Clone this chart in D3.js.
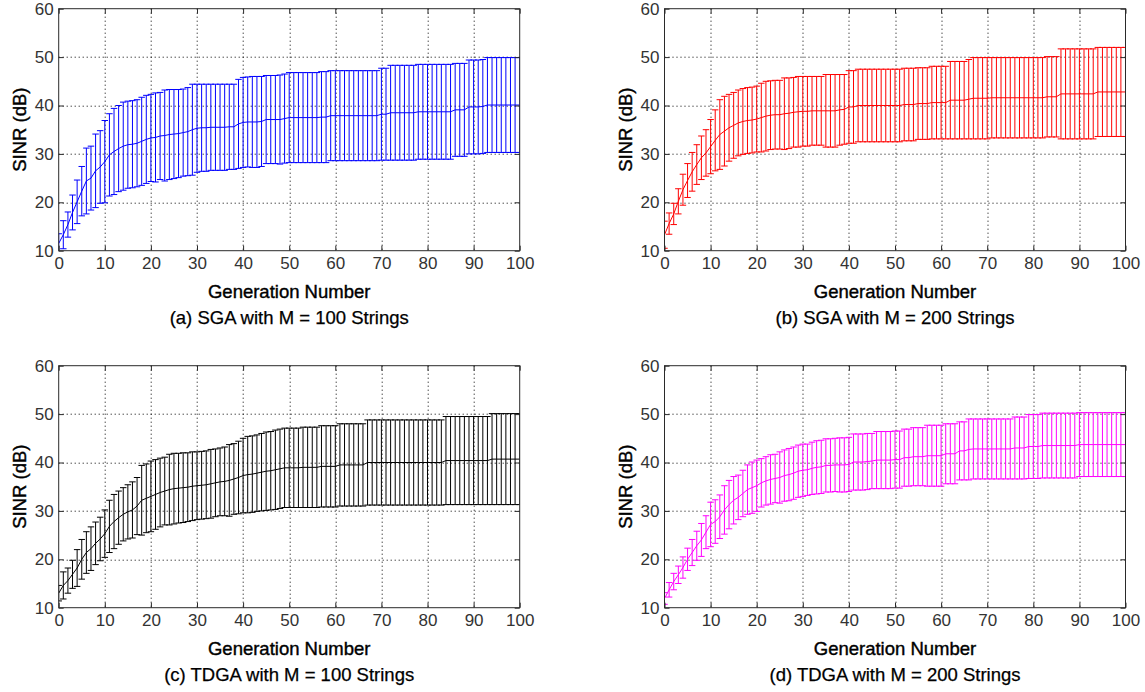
<!DOCTYPE html>
<html>
<head>
<meta charset="utf-8">
<script src="https://cdn.jsdelivr.net/npm/d3@7"></script>
<style>
  body { margin: 0; background: #fff; }
  svg { display: block; }
  text { font-family: Arial, "Liberation Sans", Helvetica, sans-serif; }
</style>
</head>
<body>
<svg id="chart" width="1145" height="692"></svg>
<script>
// Generation index (x) and axis tick values
const generations = d3.range(0, 101);
const xTicks = [0, 10, 20, 30, 40, 50, 60, 70, 80, 90, 100];
const yTicks = [10, 20, 30, 40, 50, 60];

// (a) SGA, M = 100: mean SINR (dB) and spread per generation
const sga100Mean = [
  11.5, 13.3, 15.4, 17.9, 20.1, 22.3, 24.4, 25.0, 26.5, 27.3,
  28.4, 29.8, 30.5, 31.1, 31.6, 31.9, 32.0, 32.2, 32.6, 33.0,
  33.3, 33.4, 33.7, 33.8, 34.0, 34.1, 34.2, 34.4, 34.6, 35.0,
  35.3, 35.4, 35.4, 35.5, 35.5, 35.5, 35.5, 35.6, 35.6, 36.2,
  36.5, 36.6, 36.6, 36.6, 36.7, 37.1, 37.1, 37.1, 37.1, 37.3,
  37.5, 37.5, 37.5, 37.5, 37.5, 37.5, 37.5, 37.6, 37.6, 37.9,
  37.9, 37.9, 37.9, 37.9, 37.9, 37.9, 37.9, 37.9, 37.9, 37.9,
  38.2, 38.2, 38.5, 38.5, 38.5, 38.5, 38.5, 38.5, 38.7, 38.7,
  38.7, 38.7, 38.7, 38.7, 38.7, 38.7, 39.1, 39.1, 39.1, 39.7,
  39.7, 39.7, 39.8, 40.1, 40.1, 40.1, 40.1, 40.1, 40.1, 40.1,
  40.1
];
const sga100Std = [
  2.0, 2.9, 2.6, 3.6, 4.5, 5.1, 6.8, 6.6, 7.6, 7.5,
  8.5, 8.5, 8.9, 8.9, 9.1, 9.0, 9.0, 9.0, 9.1, 9.1,
  9.0, 9.2, 9.0, 9.4, 9.3, 9.2, 9.1, 9.0, 9.1, 9.4,
  9.1, 9.0, 9.0, 8.9, 8.9, 8.9, 8.9, 8.8, 8.8, 9.2,
  9.3, 9.3, 9.4, 9.4, 9.3, 9.1, 9.1, 9.1, 9.2, 9.2,
  9.3, 9.3, 9.3, 9.3, 9.3, 9.3, 9.3, 9.4, 9.4, 9.3,
  9.3, 9.3, 9.3, 9.3, 9.3, 9.3, 9.3, 9.3, 9.3, 9.3,
  9.5, 9.5, 9.8, 9.8, 9.8, 9.8, 9.8, 9.8, 9.8, 9.8,
  9.8, 9.8, 9.8, 9.8, 9.8, 9.8, 9.6, 9.6, 9.6, 9.7,
  9.7, 9.7, 9.7, 9.8, 9.8, 9.8, 9.8, 9.8, 9.8, 9.8,
  9.8
];

// (b) SGA, M = 200
const sga200Mean = [
  13.3, 15.6, 17.6, 20.2, 22.6, 24.5, 26.3, 27.8, 29.2, 30.2,
  31.5, 32.8, 34.0, 34.7, 35.4, 35.9, 36.4, 36.7, 36.9, 37.0,
  37.2, 37.5, 37.8, 38.0, 38.1, 38.1, 38.3, 38.4, 38.6, 38.7,
  38.8, 38.8, 38.9, 38.9, 38.9, 38.9, 38.9, 38.9, 39.1, 39.2,
  39.7, 39.7, 40.0, 40.0, 40.0, 40.0, 40.0, 40.0, 40.0, 40.0,
  40.0, 40.0, 40.2, 40.2, 40.2, 40.4, 40.4, 40.4, 40.6, 40.6,
  40.6, 40.6, 41.1, 41.1, 41.1, 41.1, 41.3, 41.5, 41.5, 41.5,
  41.5, 41.6, 41.6, 41.6, 41.6, 41.6, 41.6, 41.6, 41.6, 41.6,
  41.6, 41.6, 41.6, 41.8, 41.8, 41.8, 42.4, 42.4, 42.4, 42.4,
  42.4, 42.4, 42.4, 42.4, 42.8, 42.8, 42.8, 42.8, 42.8, 42.8,
  42.8
];
const sga200Std = [
  2.8, 2.2, 2.2, 2.6, 3.2, 3.5, 4.0, 4.1, 4.5, 4.8,
  5.6, 6.3, 7.2, 7.2, 6.9, 6.8, 6.8, 6.8, 6.8, 6.8,
  6.8, 7.1, 7.2, 7.1, 7.1, 7.1, 7.4, 7.3, 7.2, 7.3,
  7.2, 7.2, 7.1, 7.1, 7.1, 7.5, 7.5, 7.5, 7.3, 7.2,
  7.5, 7.5, 7.5, 7.5, 7.5, 7.5, 7.5, 7.5, 7.5, 7.5,
  7.5, 7.5, 7.5, 7.5, 7.5, 7.4, 7.4, 7.4, 7.5, 7.5,
  7.5, 7.5, 8.0, 8.0, 8.0, 8.0, 8.2, 8.4, 8.4, 8.4,
  8.4, 8.3, 8.3, 8.3, 8.3, 8.3, 8.3, 8.3, 8.3, 8.3,
  8.3, 8.3, 8.3, 8.3, 8.3, 8.3, 9.3, 9.3, 9.3, 9.3,
  9.3, 9.3, 9.3, 9.3, 9.2, 9.2, 9.2, 9.2, 9.2, 9.2,
  9.2
];

// (c) TDGA, M = 100
const tdga100Mean = [
  13.0, 14.6, 15.6, 16.9, 18.2, 20.0, 21.4, 22.2, 23.3, 24.2,
  25.3, 26.8, 27.8, 28.6, 29.3, 29.8, 30.2, 31.0, 32.2, 32.6,
  33.0, 33.4, 33.8, 34.1, 34.4, 34.6, 34.7, 34.8, 34.9, 35.1,
  35.2, 35.3, 35.4, 35.6, 35.8, 36.0, 36.1, 36.3, 36.6, 36.9,
  37.3, 37.5, 37.6, 37.8, 38.0, 38.2, 38.3, 38.5, 38.7, 38.9,
  38.9, 38.9, 38.9, 39.0, 39.0, 39.0, 39.0, 39.2, 39.2, 39.2,
  39.2, 39.5, 39.5, 39.5, 39.5, 39.5, 39.5, 40.0, 40.0, 40.0,
  40.0, 40.0, 40.0, 40.0, 40.0, 40.0, 40.0, 40.0, 40.0, 40.0,
  40.0, 40.0, 40.0, 40.0, 40.4, 40.4, 40.4, 40.4, 40.4, 40.4,
  40.4, 40.4, 40.4, 40.4, 40.7, 40.7, 40.7, 40.7, 40.7, 40.7,
  40.7
];
const tdga100Std = [
  1.6, 2.8, 2.6, 2.9, 3.8, 4.1, 4.3, 4.5, 4.4, 4.5,
  4.9, 5.4, 5.6, 5.5, 5.5, 5.6, 5.8, 5.9, 7.2, 7.1,
  7.3, 7.2, 7.1, 7.0, 7.3, 7.3, 7.2, 7.2, 7.1, 7.1,
  7.0, 7.0, 7.0, 7.1, 7.0, 7.0, 7.1, 7.4, 7.3, 7.5,
  7.7, 7.9, 7.9, 7.9, 8.0, 8.1, 8.1, 8.2, 8.2, 8.2,
  8.2, 8.2, 8.2, 8.3, 8.3, 8.3, 8.3, 8.4, 8.4, 8.4,
  8.4, 8.5, 8.5, 8.5, 8.5, 8.5, 8.5, 8.8, 8.8, 8.8,
  8.8, 8.8, 8.8, 8.8, 8.8, 8.8, 8.8, 8.8, 8.8, 8.8,
  8.8, 8.8, 8.8, 8.8, 9.1, 9.1, 9.1, 9.1, 9.1, 9.1,
  9.1, 9.1, 9.1, 9.1, 9.4, 9.4, 9.4, 9.4, 9.4, 9.4,
  9.4
];

// (d) TDGA, M = 200
const tdga200Mean = [
  11.9, 13.7, 15.4, 16.8, 18.3, 20.0, 21.4, 22.8, 24.0, 25.6,
  27.2, 27.8, 28.8, 30.2, 31.3, 32.2, 32.8, 33.6, 34.4, 34.8,
  35.2, 35.8, 36.2, 36.5, 36.7, 36.9, 37.3, 37.5, 37.8, 38.2,
  38.4, 38.5, 38.8, 39.0, 39.1, 39.4, 39.4, 39.5, 39.5, 39.5,
  39.6, 40.1, 40.1, 40.1, 40.2, 40.3, 40.5, 40.5, 40.5, 40.5,
  40.6, 40.6, 41.0, 41.0, 41.2, 41.2, 41.2, 41.4, 41.4, 41.4,
  41.4, 41.8, 41.8, 41.8, 42.4, 42.4, 42.7, 42.8, 42.8, 42.8,
  42.8, 42.8, 42.8, 42.8, 42.8, 42.8, 43.0, 43.0, 43.0, 43.3,
  43.3, 43.3, 43.5, 43.5, 43.5, 43.5, 43.5, 43.5, 43.5, 43.5,
  43.7, 43.7, 43.7, 43.7, 43.7, 43.7, 43.7, 43.7, 43.7, 43.7,
  43.7
];
const tdga200Std = [
  1.2, 1.5, 1.7, 1.8, 2.2, 2.3, 2.7, 3.0, 3.4, 3.4,
  4.6, 4.5, 4.5, 5.0, 5.0, 4.9, 4.6, 4.8, 5.1, 5.3,
  5.3, 5.0, 5.0, 5.1, 5.0, 5.3, 5.3, 5.4, 5.4, 5.4,
  5.4, 5.3, 5.4, 5.5, 5.5, 5.5, 5.5, 5.5, 5.6, 5.6,
  5.6, 5.8, 5.8, 5.8, 5.8, 5.7, 5.9, 5.9, 5.9, 5.9,
  5.9, 5.9, 5.9, 5.9, 6.0, 6.0, 6.0, 6.3, 6.3, 6.3,
  6.3, 6.2, 6.2, 6.2, 6.0, 6.0, 6.3, 6.2, 6.2, 6.2,
  6.2, 6.2, 6.2, 6.2, 6.2, 6.2, 6.4, 6.4, 6.4, 6.6,
  6.6, 6.6, 6.7, 6.7, 6.7, 6.7, 6.7, 6.7, 6.7, 6.7,
  6.6, 6.6, 6.6, 6.6, 6.6, 6.6, 6.6, 6.6, 6.6, 6.6,
  6.6
];

const panels = [
  { mean: sga100Mean,  std: sga100Std,  color: "#0000ff", caption: "(a) SGA with M = 100 Strings",  left: 58.7, top: 8.7 },
  { mean: sga200Mean,  std: sga200Std,  color: "#ff0000", caption: "(b) SGA with M = 200 Strings",  left: 664.5, top: 8.7 },
  { mean: tdga100Mean, std: tdga100Std, color: "#000000", caption: "(c) TDGA with M = 100 Strings", left: 58.7, top: 365.7 },
  { mean: tdga200Mean, std: tdga200Std, color: "#ff00ff", caption: "(d) TDGA with M = 200 Strings", left: 664.5, top: 365.7 }
];

const plotW = 461, plotH = 242;
const capHalf = 0.7;          // half width of error-bar caps, in generations
const axisColor = "#2a2a2a";

const svg = d3.select("#chart");

// heavier label text, drawn with a thin outline in its own colour
const label = (sel, size) => sel
  .attr("text-anchor", "middle").attr("dominant-baseline", "central")
  .attr("font-size", size).attr("fill", "#000")
  .attr("stroke", "#000").attr("stroke-width", 0.4);

panels.forEach((p, k) => {
  const g = svg.append("g").attr("transform", `translate(${p.left},${p.top})`);
  const x = d3.scaleLinear().domain([0, 100]).range([0, plotW]);
  const y = d3.scaleLinear().domain([10, 60]).range([plotH, 0]);

  const clipId = "clip" + k;
  g.append("clipPath").attr("id", clipId)
    .append("rect").attr("width", plotW).attr("height", plotH);

  // dotted grid
  const grid = g.append("g").attr("stroke", "#000").attr("stroke-width", 1)
    .attr("stroke-dasharray", "1,3");
  grid.selectAll(".gx").data(xTicks.slice(1, -1)).join("line")
    .attr("x1", d => Math.round(x(d)) + 0.5).attr("x2", d => Math.round(x(d)) + 0.5)
    .attr("y1", 0).attr("y2", plotH);
  grid.selectAll(".gy").data(yTicks.slice(1, -1)).join("line")
    .attr("y1", d => Math.round(y(d)) + 0.5).attr("y2", d => Math.round(y(d)) + 0.5)
    .attr("x1", 0).attr("x2", plotW);

  // error bars and mean curve
  const rows = generations.map((gen, i) => ({ gen, m: p.mean[i], s: p.std[i] }));
  const plot = g.append("g").attr("clip-path", `url(#${clipId})`)
    .attr("stroke", p.color).attr("stroke-width", 1).attr("fill", "none");

  const bars = plot.selectAll(".eb").data(rows).join("g");
  bars.append("line")
    .attr("x1", d => x(d.gen)).attr("x2", d => x(d.gen))
    .attr("y1", d => y(d.m - d.s)).attr("y2", d => y(d.m + d.s));
  bars.append("line")
    .attr("x1", d => x(d.gen - capHalf)).attr("x2", d => x(d.gen + capHalf))
    .attr("y1", d => y(d.m + d.s)).attr("y2", d => y(d.m + d.s));
  bars.append("line")
    .attr("x1", d => x(d.gen - capHalf)).attr("x2", d => x(d.gen + capHalf))
    .attr("y1", d => y(d.m - d.s)).attr("y2", d => y(d.m - d.s));

  plot.append("path").datum(rows)
    .attr("d", d3.line().x(d => x(d.gen)).y(d => y(d.m)));

  // axes with inward ticks on all four sides
  const styleAxis = sel => {
    sel.select(".domain").remove();
    sel.selectAll(".tick line").attr("stroke", axisColor);
    sel.selectAll(".tick text").attr("fill", "#333").attr("font-size", 17);
  };
  g.append("g").attr("transform", `translate(0,${plotH})`)
    .call(d3.axisBottom(x).tickValues(xTicks).tickSizeInner(-5).tickSizeOuter(0).tickPadding(6))
    .call(styleAxis);
  g.append("g")
    .call(d3.axisLeft(y).tickValues(yTicks).tickSizeInner(-5).tickSizeOuter(0).tickPadding(5))
    .call(styleAxis);
  g.append("g")
    .call(d3.axisTop(x).tickValues(xTicks).tickSizeInner(-5).tickSizeOuter(0).tickFormat(""))
    .call(styleAxis);
  g.append("g").attr("transform", `translate(${plotW},0)`)
    .call(d3.axisRight(y).tickValues(yTicks).tickSizeInner(-5).tickSizeOuter(0).tickFormat(""))
    .call(styleAxis);

  g.append("rect").attr("x", 0).attr("y", 0).attr("width", plotW).attr("height", plotH)
    .attr("fill", "none").attr("stroke", axisColor).attr("stroke-width", 1);

  // labels
  g.append("text").attr("x", plotW / 2).attr("y", plotH + 41)
    .call(label, 18.5).text("Generation Number");
  g.append("text").attr("x", plotW / 2).attr("y", plotH + 67)
    .call(label, 18.5).attr("stroke-width", 0.25).text(p.caption);
  g.append("text")
    .attr("transform", `translate(-39,${plotH / 2}) rotate(-90)`)
    .call(label, 18.5).text("SINR (dB)");
});
</script>
</body>
</html>
